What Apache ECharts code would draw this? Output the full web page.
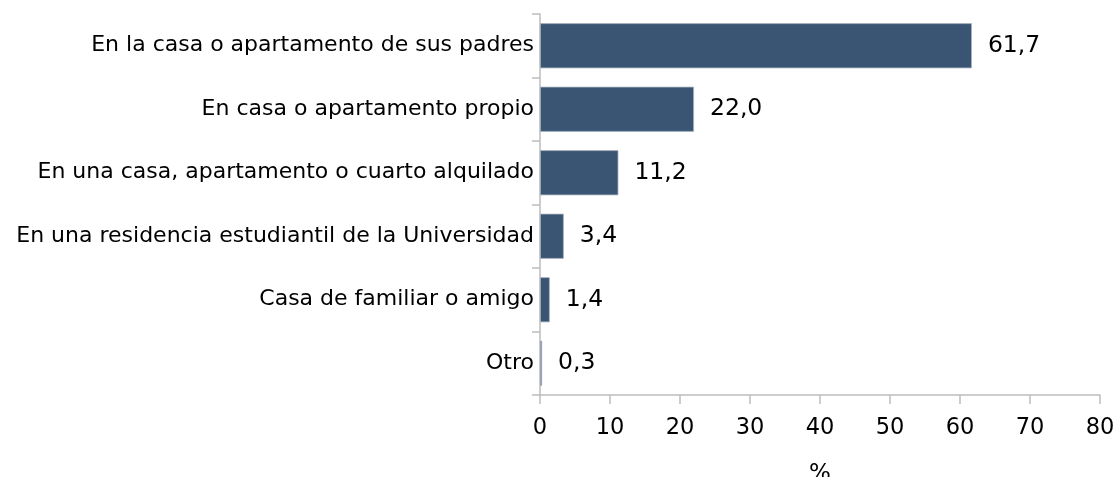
<!DOCTYPE html>
<html><head><meta charset="utf-8">
<script src="https://cdn.jsdelivr.net/npm/echarts@6/dist/echarts.min.js"></script>
<style>html,body{margin:0;padding:0;background:#fff;overflow:hidden}#c{width:1117px;height:477px}</style>
</head><body><div id="c"></div>
<script>
const categories = [
  "En la casa o apartamento de sus padres",
  "En casa o apartamento propio",
  "En una casa, apartamento o cuarto alquilado",
  "En una residencia estudiantil de la Universidad",
  "Casa de familiar o amigo",
  "Otro"
];
const values = [61.7, 22.0, 11.2, 3.4, 1.4, 0.3];
const xTicks = { min: 0, max: 80, interval: 10 };
const axisName = "%";

const FONT = 'DejaVu Sans';
const chart = echarts.init(document.getElementById('c'), null, {renderer: 'canvas'});
chart.setOption({
  animation: false,
  grid: { left: 540, right: 17, top: 14, bottom: 82, containLabel: false, outerBoundsMode: 'none' },
  xAxis: {
    type: 'value', min: xTicks.min, max: xTicks.max, interval: xTicks.interval,
    name: axisName, nameLocation: 'middle', nameGap: 68,
    nameTextStyle: { fontFamily: FONT, fontSize: 23, color: '#000' },
    splitLine: { show: false },
    axisLine: { show: true, lineStyle: { color: '#BDBDBD', width: 1.5 } },
    axisTick: { show: true, length: 9, lineStyle: { color: '#BDBDBD', width: 1.5 } },
    axisLabel: { fontFamily: FONT, fontSize: 22.5, color: '#000', margin: 22 }
  },
  yAxis: {
    type: 'category', data: categories, inverse: true,
    axisLine: { show: true, lineStyle: { color: '#BDBDBD', width: 1.5 } },
    axisTick: { show: true, length: 8, lineStyle: { color: '#BDBDBD', width: 1.5 } },
    axisLabel: { fontFamily: FONT, fontSize: 22, color: '#000', margin: 6 }
  },
  series: [{
    type: 'bar', data: values, barCategoryGap: '29%',
    itemStyle: { color: '#3A5573', borderColor: '#A9B3BF', borderWidth: 0.8 },
    label: {
      show: true, position: 'right', distance: 16,
      fontFamily: FONT, fontSize: 23.5, color: '#000',
      formatter: p => p.value.toFixed(1).replace('.', ',')
    }
  }]
});
</script></body></html>
